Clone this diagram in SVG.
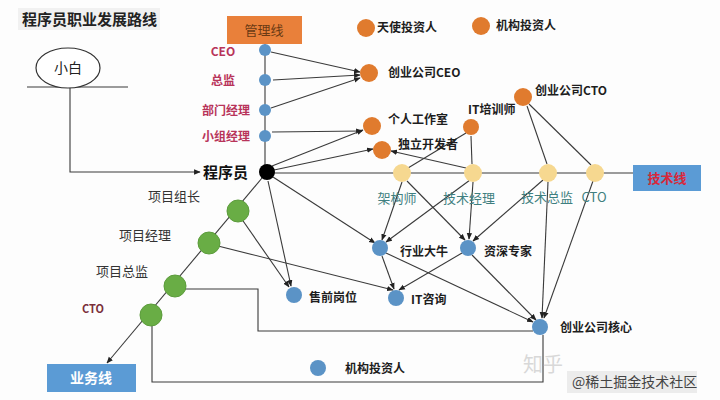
<svg xmlns="http://www.w3.org/2000/svg" width="720" height="400" viewBox="0 0 720 400">
<defs>
<marker id="arr" viewBox="0 0 10 10" refX="9" refY="5" markerWidth="6" markerHeight="6" orient="auto-start-reverse">
<path d="M0,1 L10,5 L0,9 z" fill="#222"/>
</marker>
<style>
text{font-family:"Noto Sans CJK SC","Liberation Sans",sans-serif;}
.ln{stroke:#3a3a3a;stroke-width:1.1;fill:none;}
.ar{marker-end:url(#arr);}
.blue{fill:#5b93c6;}
.orange{fill:#e07b2e;}
.yellow{fill:#f6d890;}
.green{fill:#69ad45;stroke:#5c9c3c;stroke-width:1;}
.lbl{font-size:12px;font-weight:bold;fill:#1e1e1e;}
.mgr{font-size:12px;font-weight:bold;fill:#b8345a;text-anchor:middle;}
.tech{font-size:13px;fill:#3f7f80;text-anchor:middle;}
.biz{font-size:13px;fill:#333;text-anchor:middle;}
</style>
</defs>
<rect width="720" height="400" fill="#fdfdfd"/>
<rect x="18" y="8" width="142" height="22" fill="#f1f1f1"/>
<text x="22" y="25" font-size="15" font-weight="bold" fill="#222">程序员职业发展路线</text>

<g id="connectors">
<polyline class="ln ar" points="70,87 70,172 200,172"/>
<line class="ln" x1="27" y1="87" x2="128" y2="87"/>
<line class="ln" x1="265" y1="44" x2="265" y2="172"/>
<line class="ln ar" x1="271" y1="52" x2="360" y2="72"/>
<line class="ln ar" x1="273" y1="80" x2="360" y2="75"/>
<line class="ln ar" x1="271" y1="108" x2="360" y2="78"/>
<line class="ln ar" x1="272" y1="132" x2="362" y2="131"/>
<line class="ln ar" x1="272" y1="166" x2="363" y2="130"/>
<line class="ln ar" x1="274" y1="170" x2="373" y2="149"/>
<line class="ln" x1="267" y1="173" x2="633" y2="173"/>
<line class="ln ar" x1="466" y1="168" x2="391" y2="151"/>
<line class="ln" x1="408" y1="168" x2="466" y2="133"/>
<line class="ln" x1="472" y1="164" x2="471" y2="136"/>
<line class="ln" x1="527" y1="106" x2="547" y2="164"/>
<line class="ln" x1="529" y1="104" x2="591" y2="165"/>
<line class="ln ar" x1="402" y1="182" x2="382" y2="240"/>
<line class="ln ar" x1="470" y1="180" x2="386" y2="242"/>
<line class="ln ar" x1="407" y1="181" x2="465" y2="240"/>
<line class="ln ar" x1="473" y1="182" x2="469" y2="239"/>
<line class="ln ar" x1="543" y1="180" x2="473" y2="241"/>
<line class="ln ar" x1="548" y1="182" x2="542" y2="318"/>
<line class="ln ar" x1="593" y1="181" x2="544" y2="318"/>
<line class="ln ar" x1="382" y1="256" x2="394" y2="289"/>
<line class="ln ar" x1="462" y1="253" x2="399" y2="290"/>
<line class="ln ar" x1="386" y1="253" x2="533" y2="322"/>
<line class="ln ar" x1="472" y1="255" x2="536" y2="320"/>
<line class="ln ar" x1="273" y1="177" x2="375" y2="243"/>
<line class="ln ar" x1="268" y1="181" x2="291" y2="286"/>
<line class="ln ar" x1="241" y1="218" x2="289" y2="287"/>
<line class="ln ar" x1="218" y1="246" x2="393" y2="290"/>
<line class="ln ar" x1="267" y1="172" x2="107" y2="363"/>
<polyline class="ln" points="185,289 258,289 258,331 533,331"/>
<polyline class="ln" points="152,325 152,382 543,382 543,335"/>
</g>

<g id="xiaobai">
<ellipse cx="68" cy="68" rx="32" ry="20" fill="#fff" stroke="#333" stroke-width="1.2"/>
<text x="68" y="73" font-size="14" text-anchor="middle" fill="#222">小白</text>
</g>

<g id="guanlixian">
<rect x="227" y="16" width="75" height="28" fill="#e9803a"/>
<text x="264" y="35" font-size="13" text-anchor="middle" fill="#6a3a14">管理线</text>
</g>

<g id="ceo"><circle class="blue" cx="265" cy="50" r="6"/><text class="mgr" x="223" y="56" font-size="11">CEO</text></g>
<g id="zongjian"><circle class="blue" cx="265" cy="80" r="6"/><text class="mgr" x="223" y="85">总监</text></g>
<g id="bumenjingli"><circle class="blue" cx="265" cy="110" r="6"/><text class="mgr" x="226" y="115">部门经理</text></g>
<g id="xiaozujingli"><circle class="blue" cx="265" cy="136" r="6"/><text class="mgr" x="226" y="141">小组经理</text></g>

<g id="chengxuyuan">
<circle cx="267" cy="172" r="8" fill="#000"/>
<text x="203" y="178" font-size="15" font-weight="bold" fill="#111">程序员</text>
</g>

<g id="tianshi"><circle class="orange" cx="366" cy="28" r="9"/><text class="lbl" x="377" y="32">天使投资人</text></g>
<g id="jigou-top"><circle class="orange" cx="481" cy="26" r="9"/><text class="lbl" x="496" y="30">机构投资人</text></g>
<g id="cy-ceo"><circle class="orange" cx="369" cy="73" r="9"/><text class="lbl" x="388" y="77">创业公司CEO</text></g>
<g id="geren"><circle class="orange" cx="372" cy="126" r="9"/><text class="lbl" x="388" y="124">个人工作室</text></g>
<g id="duli"><circle class="orange" cx="382" cy="150" r="9"/><text class="lbl" x="398" y="149">独立开发者</text></g>
<g id="peixun"><circle class="orange" cx="471" cy="127" r="8"/><text class="lbl" x="468" y="114">IT培训师</text></g>
<g id="cy-cto"><circle class="orange" cx="523" cy="97" r="9"/><text class="lbl" x="535" y="95">创业公司CTO</text></g>

<g id="jiagou"><circle class="yellow" cx="402" cy="173" r="9"/><text class="tech" x="397" y="203">架构师</text></g>
<g id="jsjl"><circle class="yellow" cx="473" cy="173" r="9"/><text class="tech" x="469" y="203">技术经理</text></g>
<g id="jszj"><circle class="yellow" cx="548" cy="173" r="9"/><text class="tech" x="547" y="202">技术总监</text></g>
<g id="tech-cto"><circle class="yellow" cx="595" cy="173" r="9"/><text class="tech" x="594" y="202" font-size="11">CTO</text></g>

<g id="jishuxian">
<rect x="633" y="165" width="68" height="26" fill="#5b9bd5"/>
<text x="667" y="183" font-size="13" font-weight="bold" text-anchor="middle" fill="#d8283a">技术线</text>
</g>

<g id="xmzz"><circle class="green" cx="238" cy="211" r="11"/><text class="biz" x="174" y="201">项目组长</text></g>
<g id="xmjl"><circle class="green" cx="209" cy="243" r="11"/><text class="biz" x="145" y="240">项目经理</text></g>
<g id="xmzj"><circle class="green" cx="175" cy="286" r="11"/><text class="biz" x="122" y="276">项目总监</text></g>
<g id="biz-cto"><circle class="green" cx="151" cy="315" r="11"/><text x="93" y="313" font-size="11" font-weight="bold" fill="#7a2f3a" text-anchor="middle">CTO</text></g>

<g id="yewuxian">
<rect x="47" y="364" width="89" height="28" fill="#5b9bd5"/>
<text x="91" y="383" font-size="14" font-weight="bold" text-anchor="middle" fill="#fff">业务线</text>
</g>

<g id="hydn"><circle class="blue" cx="380" cy="248" r="8"/><text class="lbl" x="400" y="256" font-size="13">行业大牛</text></g>
<g id="zszj"><circle class="blue" cx="468" cy="248" r="8"/><text class="lbl" x="484" y="256" font-size="13">资深专家</text></g>
<g id="shouqian"><circle class="blue" cx="294" cy="295" r="8"/><text class="lbl" x="309" y="302" font-size="13">售前岗位</text></g>
<g id="itzx"><circle class="blue" cx="396" cy="298" r="8"/><text class="lbl" x="411" y="304" font-size="13">IT咨询</text></g>
<g id="cyhx"><circle class="blue" cx="540" cy="327" r="8"/><text class="lbl" x="560" y="332" font-size="13">创业公司核心</text></g>
<g id="jigou-bottom"><circle class="blue" cx="318" cy="368" r="8"/><text class="lbl" x="345" y="373" font-size="13">机构投资人</text></g>

<g id="watermark">
<text x="523" y="372" font-size="20" fill="#d8d8d8">知乎</text>
<rect x="567" y="371" width="130" height="22" fill="#ececec"/>
<text x="572" y="387" font-size="14" fill="#444">@稀土掘金技术社区</text>
</g>
</svg>
